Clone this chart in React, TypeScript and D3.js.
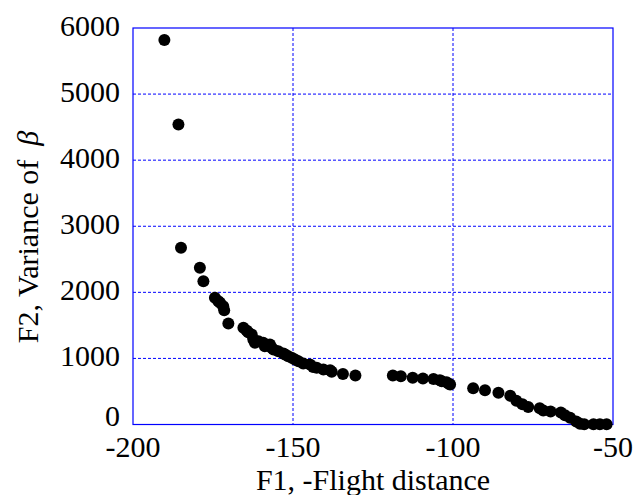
import React, { useEffect } from 'react';
import * as d3 from 'd3';

// F1 (-flight distance) and F2 (variance of beta)
const f1 = [
  -190.2, -185.8, -185.0, -179.1, -178.0, -174.4, -173.3, -172.8, -171.8, -171.5,
  -170.2, -165.5, -164.5, -164.0, -162.9, -162.4, -161.9, -160.8, -159.3, -158.8,
  -157.2, -156.7, -156.1, -154.6, -153.0, -152.5, -151.5, -150.4, -149.4, -148.3,
  -146.8, -144.7, -143.7, -142.6, -140.5, -138.4, -137.9, -134.4, -130.5, -118.8,
  -116.3, -112.6, -109.4, -106.1, -104.1, -103.5, -102.0, -101.3, -100.9, -93.7,
  -90.0, -85.8, -82.1, -80.2, -78.3, -76.5, -72.9, -71.8, -69.5, -66.3,
  -65.0, -63.4, -61.5, -60.3, -59.0, -56.1, -54.1, -52.0,
];
const f2 = [
  5820, 4540, 2674, 2371, 2169, 1917, 1866, 1842, 1791, 1730,
  1529, 1463, 1423, 1397, 1362, 1287, 1236, 1261, 1236, 1185,
  1211, 1161, 1135, 1110, 1075, 1059, 1034, 1009, 984, 958,
  923, 908, 870, 858, 832, 822, 800, 765, 742, 742,
  731, 706, 695, 690, 671, 656, 640, 615, 605, 547,
  518, 479, 434, 360, 308, 265, 245, 212, 195, 182,
  140, 101, 45, 12, 5, 5, 5, 5,
];

const xTicks = [-200, -150, -100, -50];
const yTicks = [0, 1000, 2000, 3000, 4000, 5000, 6000];

const width = 636;
const height = 495;
const left = 133;
const right = 613;
const top = 28;
const bottom = 424.5;

const App = () => {
  useEffect(() => {
    document.body.style.margin = '0';
  }, []);

  const x = d3.scaleLinear().domain([-200, -50]).range([left, right]);
  const y = d3.scaleLinear().domain([0, 6000]).range([bottom, top]);
  const font = "'Liberation Serif', 'Times New Roman', serif";
  const fs = 30;

  return (
    <svg width={width} height={height} style={{ display: 'block' }} fontFamily={font}>
      <rect width={width} height={height} fill="#fff" />
      {/* grid */}
      {xTicks.slice(1, -1).map((t) => (
        <line key={'gx' + t} x1={x(t)} x2={x(t)} y1={top} y2={bottom}
          stroke="#0000ff" strokeDasharray="3,2" strokeWidth={1} />
      ))}
      {yTicks.slice(1, -1).map((t) => (
        <line key={'gy' + t} x1={left} x2={right} y1={y(t)} y2={y(t)}
          stroke="#0000ff" strokeDasharray="3,2" strokeWidth={1} />
      ))}
      <rect x={left} y={top} width={right - left} height={bottom - top}
        fill="none" stroke="#0000ff" strokeWidth={1.2} />

      {/* points */}
      {f1.map((v, i) => (
        <circle key={i} cx={x(v)} cy={y(f2[i])} r={6} fill="#000" />
      ))}

      {/* tick labels */}
      {xTicks.map((t) => (
        <text key={'tx' + t} x={x(t)} y={457} textAnchor="middle" fontSize={fs}>{t}</text>
      ))}
      {yTicks.map((t) => (
        <text key={'ty' + t} x={120} y={y(t) - (t === 0 ? 6 : 0)} dy="0.25em"
          textAnchor="end" fontSize={fs}>{t}</text>
      ))}

      {/* axis titles */}
      <text x={(left + right) / 2} y={490} textAnchor="middle" fontSize={fs}>F1, -Flight distance</text>
      <text transform={`translate(38, 237) rotate(-90)`} textAnchor="middle" fontSize={fs}>
        F2, Variance of<tspan dx={14} fontStyle="italic">β</tspan>
      </text>
    </svg>
  );
};

export default App;
